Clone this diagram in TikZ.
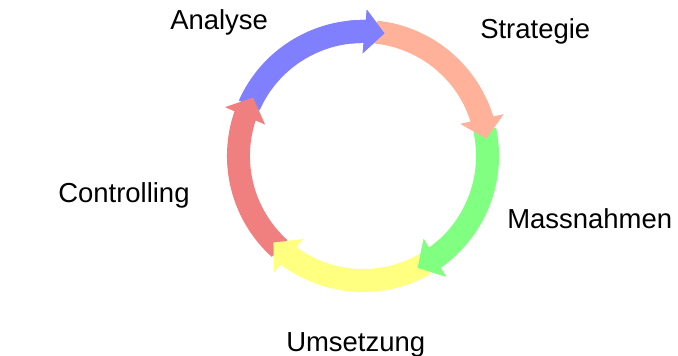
\documentclass[tikz,border=0pt]{standalone}
\usepackage{fontspec}
\setmainfont{Liberation Sans}
\usepackage{tikz}
\usetikzlibrary{arrows.meta,bending}
\definecolor{anablue}{HTML}{8080FF}
\definecolor{strsalmon}{HTML}{FFB299}
\definecolor{masgreen}{HTML}{80FF80}
\definecolor{umsyellow}{HTML}{FFFF80}
\definecolor{conred}{HTML}{F08080}

\begin{document}
\begin{tikzpicture}[
  x=0.75pt, y=0.75pt,
  label/.style={inner sep=0pt, anchor=base west, font=\fontsize{20.6}{24}\selectfont},
  ring/.style={line width=17.25pt},
  arr/.style={ring, -{Triangle[width=32pt, length=15pt]}}
]
  \useasboundingbox (0,0) rectangle (678,356);
  \coordinate (c) at (363,200);

  % Cycle arrows
  \draw[arr, anablue] (c) ++(156:93.4pt) arc[start angle=156, end angle=80, radius=93.4pt];
  \draw[arr, strsalmon] (c) ++(84:93.4pt) arc[start angle=84, end angle=8, radius=93.4pt];
  \draw[arr, masgreen] (c) ++(12:93.4pt) arc[start angle=12, end angle=-64, radius=93.4pt];
  \draw[arr, umsyellow] (c) ++(-60:93.4pt) arc[start angle=-60, end angle=-136, radius=93.4pt];
  \draw[arr, conred] (c) ++(-132:93.4pt) arc[start angle=-132, end angle=-208, radius=93.4pt];

  % Heads on top of the next arrow
  \draw[arr, anablue] (c) ++(96:93.4pt) arc[start angle=96, end angle=80, radius=93.4pt];
  \draw[arr, strsalmon] (c) ++(24:93.4pt) arc[start angle=24, end angle=8, radius=93.4pt];
  \draw[arr, masgreen] (c) ++(-48:93.4pt) arc[start angle=-48, end angle=-64, radius=93.4pt];
  \draw[arr, umsyellow] (c) ++(-120:93.4pt) arc[start angle=-120, end angle=-136, radius=93.4pt];

  % Labels
  \node[label] (analyse) at (170,326) {Analyse};
  \node[label] (strategie) at (480,317.7) {Strategie};
  \node[label] (controlling) at (58,153.3) {Controlling};
  \node[label] (massnahmen) at (507,127.7) {Massnahmen};
  \node[label] (umsetzung) at (286,4.3) {Umsetzung};
\end{tikzpicture}
\end{document}
